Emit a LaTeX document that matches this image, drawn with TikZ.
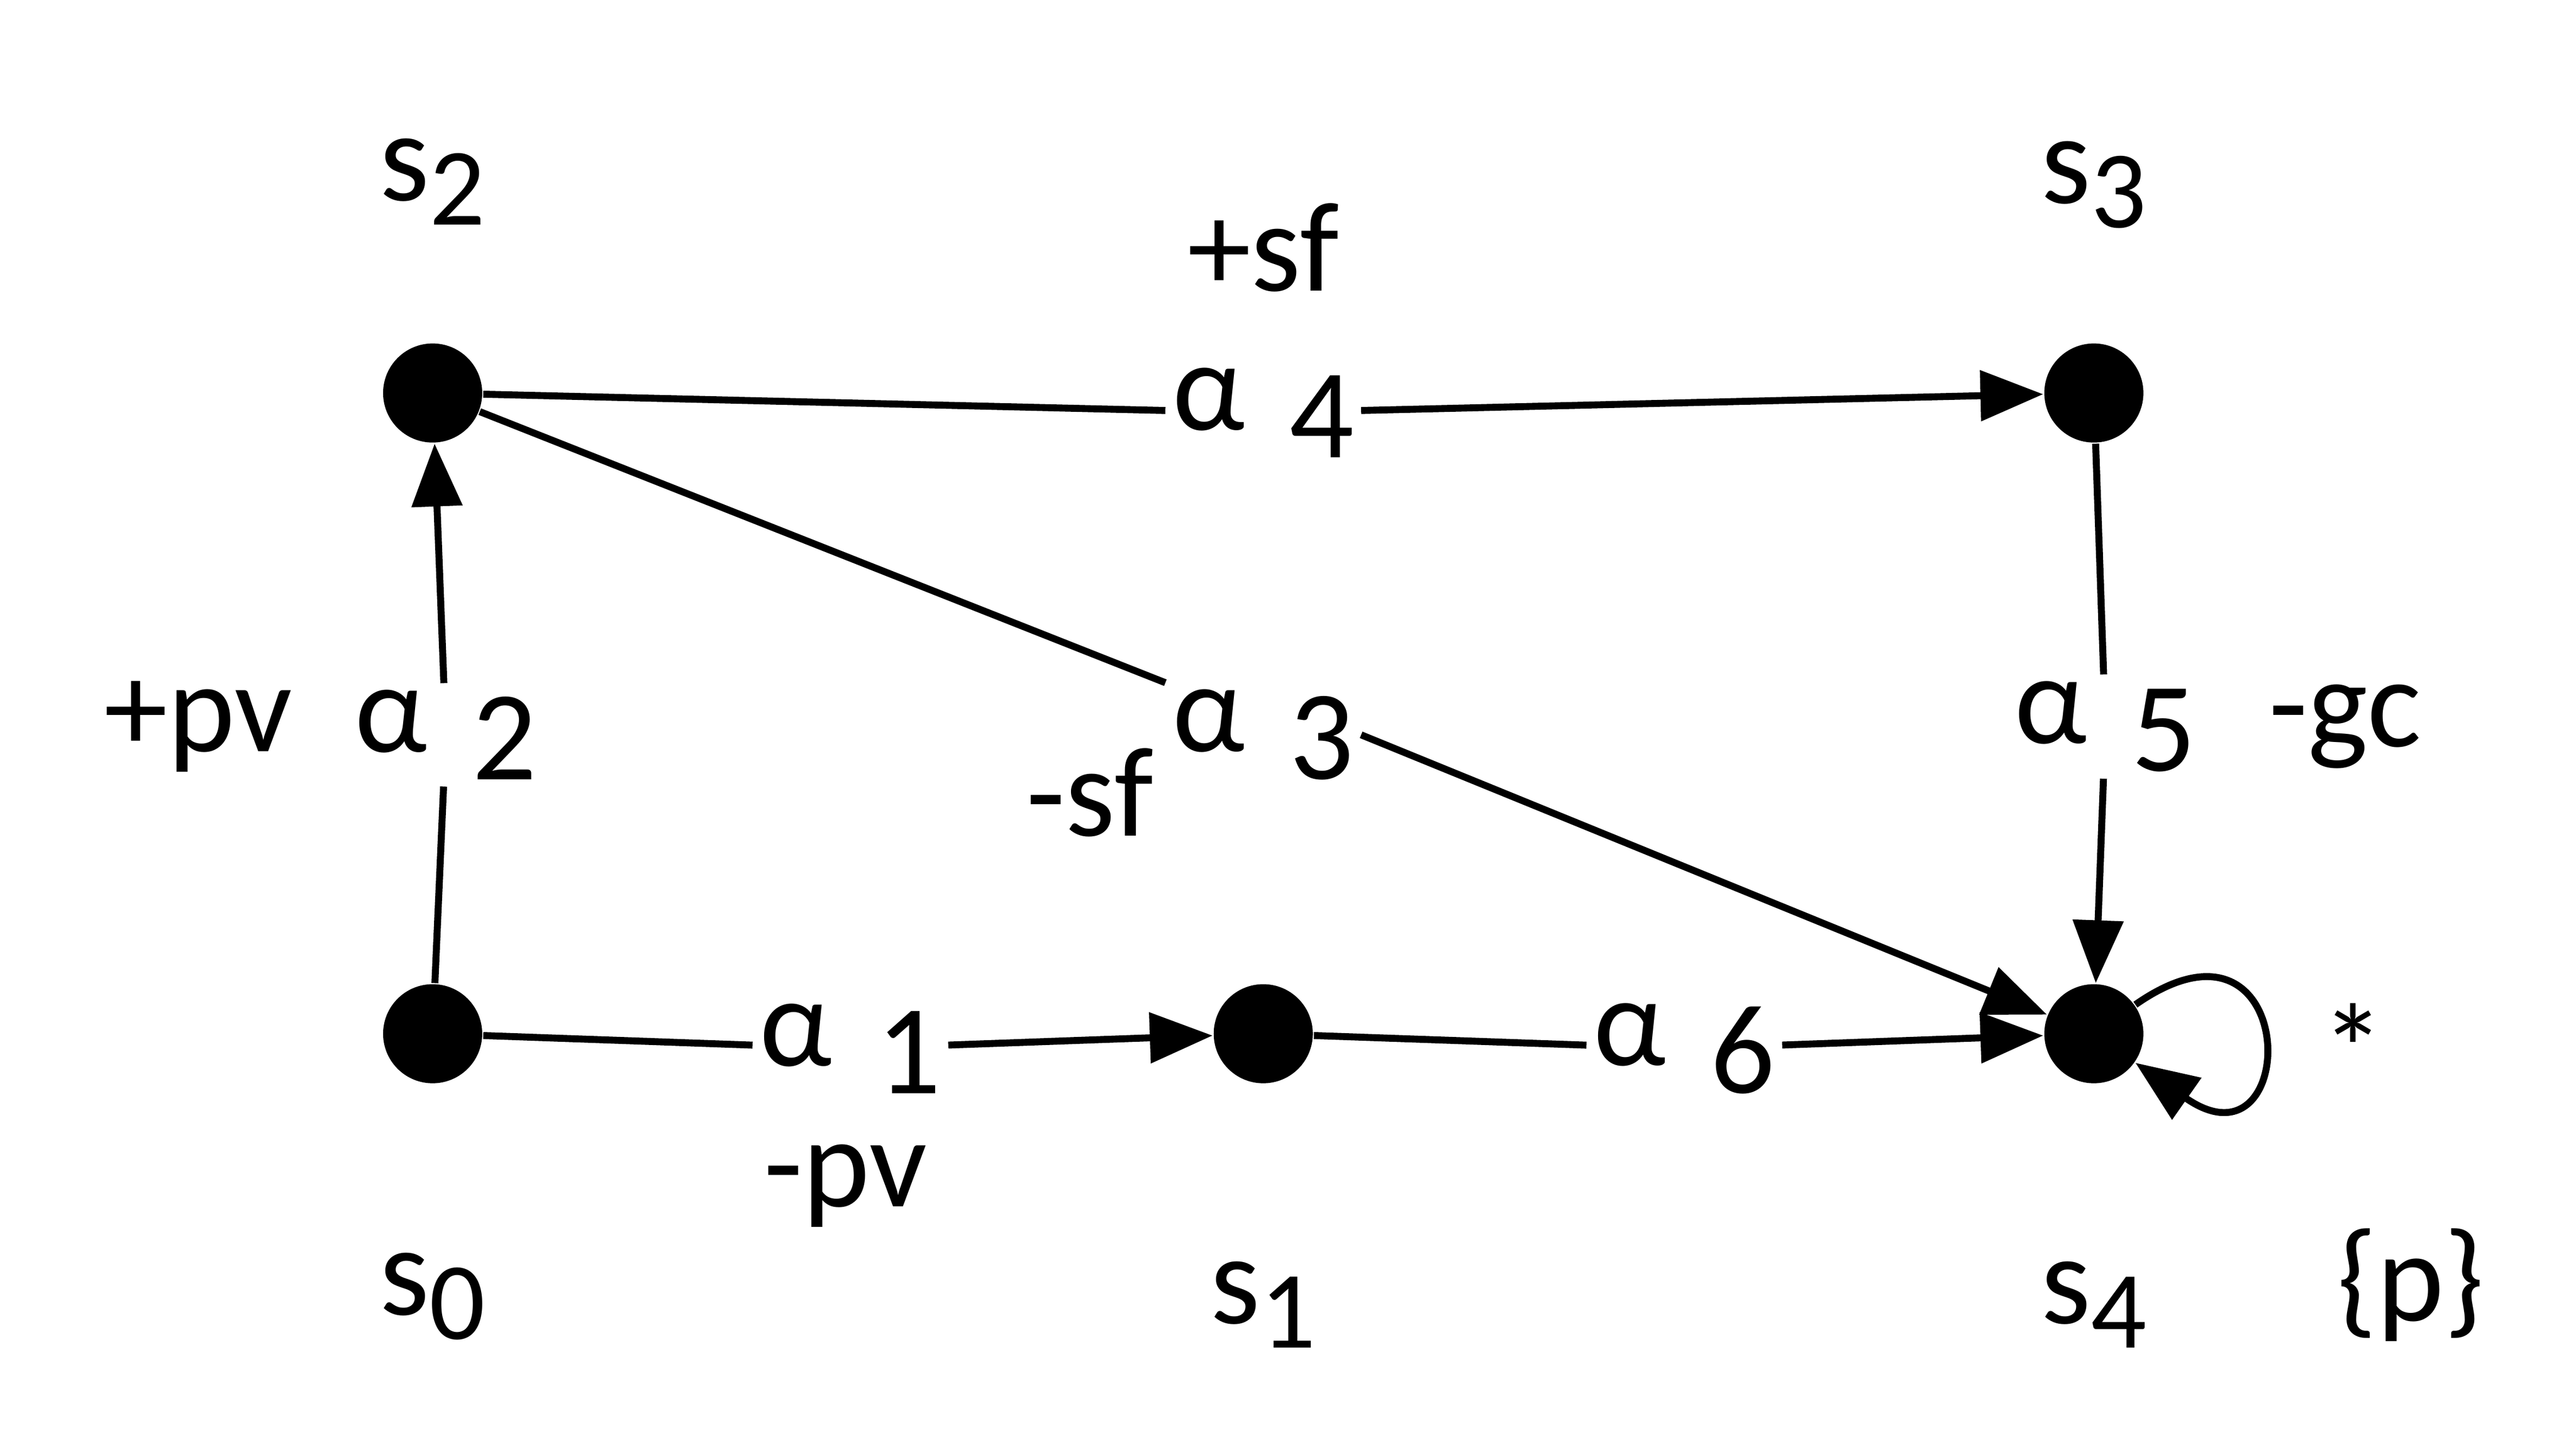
\documentclass[tikz,border=0pt]{standalone}
\usepackage{fontspec}
\setmainfont{Carlito}
\usetikzlibrary{arrows.meta, positioning}
\tikzset{state/.style={circle, fill=black, minimum size=0.6cm, inner sep=0pt},
  act/.style={inner sep=1pt, font=\fontsize{22}{26}\selectfont},
  lbl/.style={font=\fontsize{22}{26}\selectfont},
  arrow/.style={line width=1.2pt, -{Triangle[length=0.38cm,width=0.3cm]}},
  line/.style={line width=1.2pt}}
\newcommand{\act}[1]{α\hspace{0.35em}\raisebox{-0.45ex}{#1}}
\newcommand{\st}[1]{s\raisebox{-0.4ex}{\fontsize{19}{22}\selectfont #1}}
\begin{document}
\begin{tikzpicture}
  \useasboundingbox (0,0) rectangle (15.6,8.75);
  % States
  \node (s0) [state] at (2.62,2.49) {};
  \node (s1) [state] at (7.65,2.49) {};
  \node (s4) [state] at (12.68,2.49) {};
  \node (s2) [state] at (2.62,6.37) {};
  \node (s3) [state] at (12.68,6.37) {};
  % State names
  \node[lbl] at (2.62,7.65) {\st{2}};
  \node[lbl] at (12.68,7.63) {\st{3}};
  \node[lbl] at (2.62,0.9) {\st{0}};
  \node[lbl] at (7.65,0.85) {\st{1}};
  \node[lbl] at (12.68,0.85) {\st{4}};
  % Actions
  \node (a1) [act] at (5.15,2.4) {\act{1}};
  \node (a2) [act] at (2.7,4.3) {\act{2}};
  \node (a3) [act] at (7.65,4.3) {\act{3}};
  \node (a4) [act] at (7.65,6.25) {\act{4}};
  \node (a5) [act] at (12.75,4.35) {\act{5}};
  \node (a6) [act] at (10.2,2.4) {\act{6}};
  % Effects
  \node[lbl] at (7.65,7.25) {+sf};
  \node[lbl] at (6.6,3.95) {-sf};
  \node[lbl] at (1.2,4.35) {+pv};
  \node[lbl] at (14.2,4.35) {-gc};
  \node[lbl] at (5.12,1.57) {-pv};
  \node[lbl] at (14.25,2.4) {*};
  \node[lbl] at (14.6,0.97) {\{p\}};
  % Edges
  \draw[line] (s0) -- (a1);
  \draw[arrow] (a1) -- (s1);
  \draw[line] (s1) -- (a6);
  \draw[arrow] (a6) -- (s4);
  \draw[line] (s0) -- (a2);
  \draw[arrow] (a2) -- (s2);
  \draw[line] (s2) -- (a4);
  \draw[arrow] (a4) -- (s3);
  \draw[line] (s2) -- (a3.north west);
  \draw[arrow] (a3.east) -- (s4);
  \draw[line] (s3) -- (a5);
  \draw[arrow] (a5) -- (s4);
  \draw[arrow] (s4) to[out=35, in=-35, looseness=9] (s4);
\end{tikzpicture}
\end{document}
